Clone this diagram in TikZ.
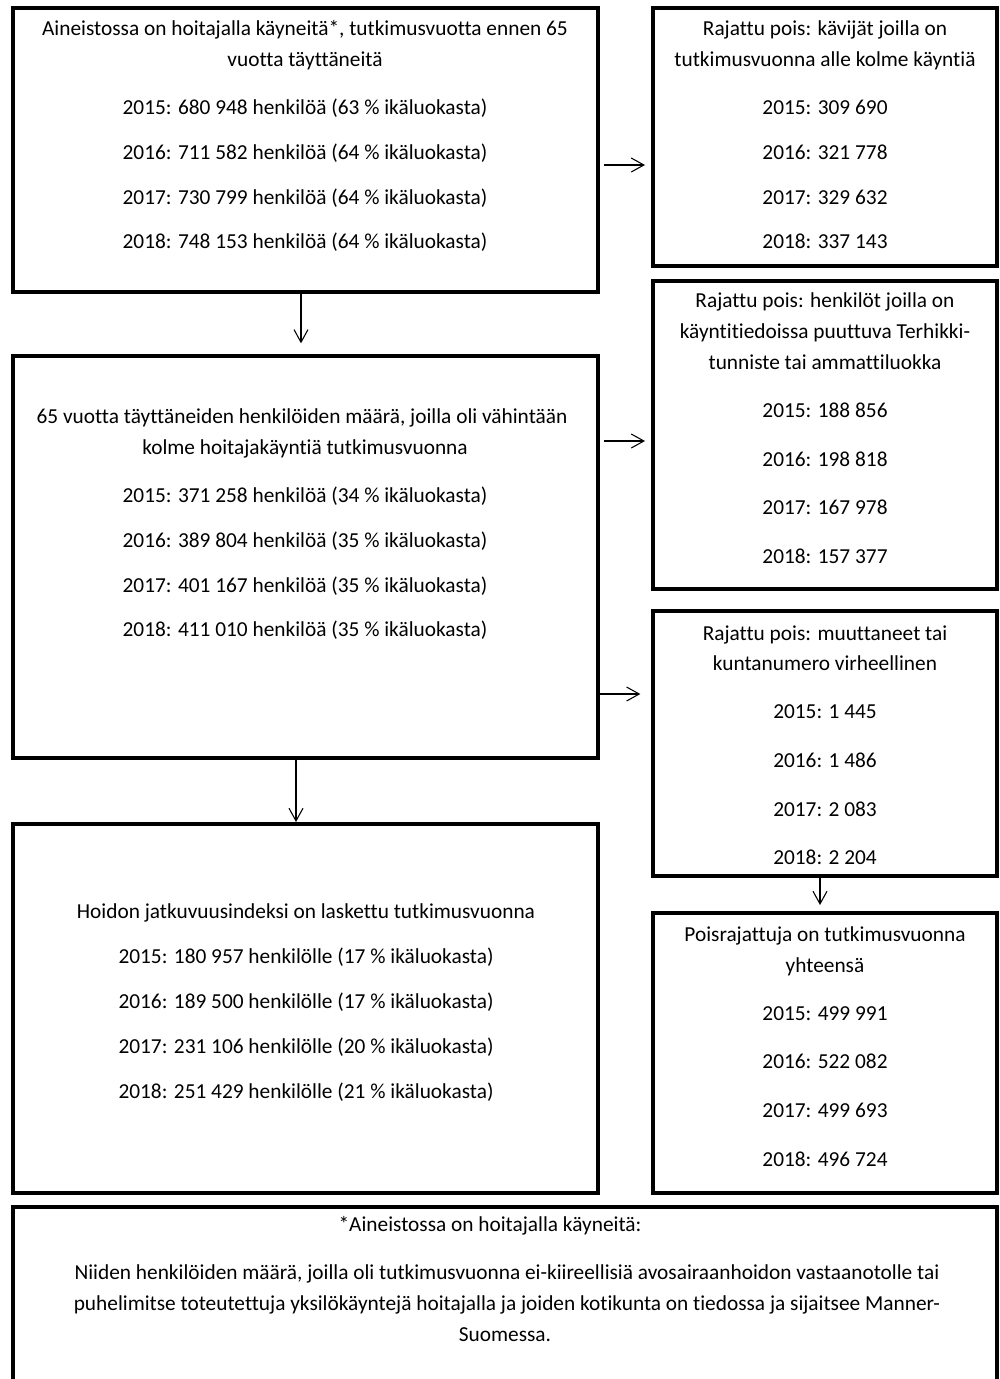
\documentclass[tikz,border=0pt]{standalone}
\usepackage{fontspec}
\setmainfont[Ligatures={NoCommon}]{Carlito}
\usetikzlibrary{arrows.meta,calc}
\tikzset{
  box/.style={draw=black, line width=2.6pt, inner sep=0pt, outer sep=0pt, rectangle},
  txt/.style={font=\fontsize{16pt}{19pt}\selectfont, anchor=base, inner sep=0pt, text=black},
  arr/.style={draw=black, line width=0.8pt, -{Straight Barb[length=9.5pt, width=10.5pt, line width=0.8pt]}},
}
\newcommand\mkbox[5]{\node[box, minimum width={(#4-#2)*0.75pt}, minimum height={(#5-#3)*0.75pt}] (#1) at ({(#2+#4)/2},{(#3+#5)/2}) {};}
\newcommand\tline[4]{\node[txt] (#1) at (#2,{#3+6}) {#4};}
\begin{document}
\begin{tikzpicture}[x=0.75pt, y=-0.75pt]
\useasboundingbox (0,0) rectangle (1000,1379);
\clip (0,0) rectangle (1000,1379);
\fill[white] (0,0) rectangle (1000,1379);
% boxes
\mkbox{b1}{13}{8}{598}{292}
\mkbox{r1}{653}{8}{997}{266}
\mkbox{r2}{653}{281}{997}{589}
\mkbox{b2}{13}{356}{598}{758}
\mkbox{r3}{653}{611}{997}{876}
\mkbox{b3}{13}{824}{598}{1193}
\mkbox{r4}{653}{913}{997}{1193}
\mkbox{bn}{13}{1207}{997}{1420}
% arrows
\draw[arr, shorten <=4.5pt, shorten >=6pt] (b1.east |- 0,165) -- (r1.west |- 0,165);
\draw[arr, shorten <=4.5pt, shorten >=6pt] (b2.east |- 0,441) -- (r2.west |- 0,441);
\draw[arr, shorten <=1pt, shorten >=9.5pt] (b2.east |- 0,694) -- (r3.west |- 0,694);
\draw[arr, shorten <=0pt, shorten >=9.5pt] (b1.south -| 301,0) -- (b2.north -| 301,0);
\draw[arr, shorten <=0pt, shorten >=1.5pt] (b2.south -| 296,0) -- (b3.north -| 296,0);
\draw[arr, shorten <=0pt, shorten >=6pt] (r3.south -| 820,0) -- (r4.north -| 820,0);
% box 1
\tline{t1a}{305}{29}{Aineistossa on hoitajalla käyneitä*, tutkimusvuotta ennen 65}
\tline{t1b}{305}{60}{vuotta täyttäneitä}
\tline{t1c}{305}{108}{2015: 680 948 henkilöä (63 \% ikäluokasta)}
\tline{t1d}{305}{153}{2016: 711 582 henkilöä (64 \% ikäluokasta)}
\tline{t1e}{305}{198}{2017: 730 799 henkilöä (64 \% ikäluokasta)}
\tline{t1f}{305}{242}{2018: 748 153 henkilöä (64 \% ikäluokasta)}
% r1
\tline{s1a}{825}{29}{Rajattu pois: kävijät joilla on}
\tline{s1b}{825}{60}{tutkimusvuonna alle kolme käyntiä}
\tline{s1c}{825}{108}{2015: 309 690}
\tline{s1d}{825}{153}{2016: 321 778}
\tline{s1e}{825}{198}{2017: 329 632}
\tline{s1f}{825}{242}{2018: 337 143}
% r2
\tline{s2a}{825}{301}{Rajattu pois: henkilöt joilla on}
\tline{s2b}{825}{332}{käyntitiedoissa puuttuva Terhikki-}
\tline{s2c}{825}{363}{tunniste tai ammattiluokka}
\tline{s2d}{825}{411}{2015: 188 856}
\tline{s2e}{825}{460}{2016: 198 818}
\tline{s2f}{825}{508}{2017: 167 978}
\tline{s2g}{825}{557}{2018: 157 377}
% box 2
\tline{t2a}{302}{417}{65 vuotta täyttäneiden henkilöiden määrä, joilla oli vähintään}
\tline{t2b}{305}{448}{kolme hoitajakäyntiä tutkimusvuonna}
\tline{t2c}{305}{496}{2015: 371 258 henkilöä (34 \% ikäluokasta)}
\tline{t2d}{305}{541}{2016: 389 804 henkilöä (35 \% ikäluokasta)}
\tline{t2e}{305}{586}{2017: 401 167 henkilöä (35 \% ikäluokasta)}
\tline{t2f}{305}{630}{2018: 411 010 henkilöä (35 \% ikäluokasta)}
% r3
\tline{s3a}{825}{634}{Rajattu pois: muuttaneet tai}
\tline{s3b}{825}{664}{kuntanumero virheellinen}
\tline{s3c}{825}{712}{2015: 1 445}
\tline{s3d}{825}{761}{2016: 1 486}
\tline{s3e}{825}{810}{2017: 2 083}
\tline{s3f}{825}{858}{2018: 2 204}
% box 3
\tline{t3a}{306}{912}{Hoidon jatkuvuusindeksi on laskettu tutkimusvuonna}
\tline{t3b}{306}{957}{2015: 180 957 henkilölle (17 \% ikäluokasta)}
\tline{t3c}{306}{1002}{2016: 189 500 henkilölle (17 \% ikäluokasta)}
\tline{t3d}{306}{1047}{2017: 231 106 henkilölle (20 \% ikäluokasta)}
\tline{t3e}{306}{1092}{2018: 251 429 henkilölle (21 \% ikäluokasta)}
% r4
\tline{s4a}{825}{935}{Poisrajattuja on tutkimusvuonna}
\tline{s4b}{825}{966}{yhteensä}
\tline{s4c}{825}{1014}{2015: 499 991}
\tline{s4d}{825}{1062}{2016: 522 082}
\tline{s4e}{825}{1111}{2017: 499 693}
\tline{s4f}{825}{1160}{2018: 496 724}
% bottom
\tline{n1}{490}{1225}{*Aineistossa on hoitajalla käyneitä:}
\tline{n2}{507}{1273}{Niiden henkilöiden määrä, joilla oli tutkimusvuonna ei-kiireellisiä avosairaanhoidon vastaanotolle tai}
\tline{n3}{507}{1304}{puhelimitse toteutettuja yksilökäyntejä hoitajalla ja joiden kotikunta on tiedossa ja sijaitsee Manner-}
\tline{n4}{505}{1335}{Suomessa.}
\end{tikzpicture}
\end{document}
